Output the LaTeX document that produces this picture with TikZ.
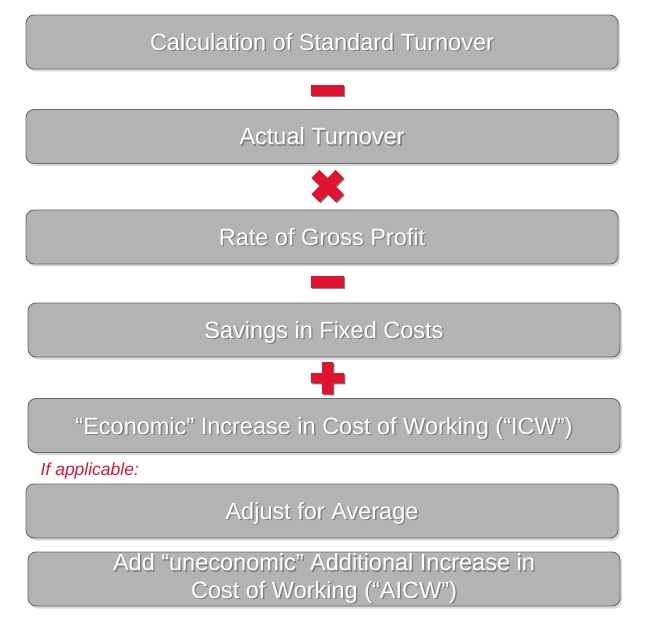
\documentclass[tikz,border=0pt]{standalone}
\usepackage{fontspec}
\setmainfont{Liberation Sans}
\usetikzlibrary{shadows}
\definecolor{boxfill}{RGB}{179,179,179}
\definecolor{boxline}{RGB}{105,105,105}
\definecolor{opred}{RGB}{222,20,48}
\newcommand\shtx[1]{\makebox[0pt][l]{\hspace{1.4pt}\raisebox{-1.4pt}{\textcolor{black!50}{#1}}}#1}
\tikzset{
  stepbox/.style={draw=boxline, line width=0.9pt, fill=boxfill, rounded corners=8pt,
    minimum width=592pt, minimum height=54pt, inner sep=0pt,
    text=white, font=\fontsize{23.5}{28}\selectfont, align=center,
    drop shadow={shadow xshift=2pt, shadow yshift=-2.5pt, fill=black!25, opacity=0.6}},
  oneline/.style={text height=17pt, text depth=0pt},
  opsym/.style={fill=opred, draw=none},
  opshadow/.style={fill=black!55, draw=none},
  minusbox/.style={rectangle, fill=opred, minimum width=33pt, minimum height=11pt, inner sep=0pt,
    drop shadow={shadow xshift=1.3pt, shadow yshift=-1.3pt, fill=black!60, opacity=0.8}},
  notefont/.style={text=opred, font=\fontsize{17.5}{20}\selectfont\itshape, anchor=base west, inner sep=0pt}
}
\begin{document}
\begin{tikzpicture}[x=1pt, y=-1pt]
\useasboundingbox (0,0) rectangle (656,628);

\node[stepbox, oneline] (b1) at (322,42) {\shtx{Calculation of Standard Turnover}};
\node[stepbox, oneline] (b2) at (322,136.5) {\shtx{Actual Turnover}};
\node[stepbox, oneline] (b3) at (322,237) {\shtx{Rate of Gross Profit}};
\node[stepbox, oneline] (b4) at (324,330) {\shtx{Savings in Fixed Costs}};
\node[stepbox, oneline] (b5) at (324,425.5) {\shtx{“Economic” Increase in Cost of Working (“ICW”)}};
\node[stepbox, oneline] (b6) at (322,511) {\shtx{Adjust for Average}};
\node[stepbox] (b7) at (324,579) {\shtx{Add “uneconomic” Additional Increase in}\\[-0.5pt]\shtx{Cost of Working (“AICW”)}};

% operators
\node[minusbox] (m1) at (327.5,90.5) {};
\node[minusbox, minimum height=12pt] (m2) at (327,282) {};

% times sign
\begin{scope}[shift={(328.8,187.3)}, rotate=45]
  \fill[opshadow] (-5.5,-17) -- (5.5,-17) -- (5.5,-5.5) -- (17,-5.5) -- (17,5.5) -- (5.5,5.5) -- (5.5,17) -- (-5.5,17) -- (-5.5,5.5) -- (-17,5.5) -- (-17,-5.5) -- (-5.5,-5.5) -- cycle;
\end{scope}
\begin{scope}[shift={(327.5,186)}, rotate=45]
  \fill[opsym] (-5.5,-17) -- (5.5,-17) -- (5.5,-5.5) -- (17,-5.5) -- (17,5.5) -- (5.5,5.5) -- (5.5,17) -- (-5.5,17) -- (-5.5,5.5) -- (-17,5.5) -- (-17,-5.5) -- (-5.5,-5.5) -- cycle;
\end{scope}

% plus sign
\begin{scope}[shift={(328.8,379.3)}]
  \fill[opshadow] (-5.5,-16) -- (5.5,-16) -- (5.5,-5) -- (16.5,-5) -- (16.5,5) -- (5.5,5) -- (5.5,16) -- (-5.5,16) -- (-5.5,5) -- (-16.5,5) -- (-16.5,-5) -- (-5.5,-5) -- cycle;
\end{scope}
\begin{scope}[shift={(327.5,378)}]
  \fill[opsym] (-5.5,-16) -- (5.5,-16) -- (5.5,-5) -- (16.5,-5) -- (16.5,5) -- (5.5,5) -- (5.5,16) -- (-5.5,16) -- (-5.5,5) -- (-16.5,5) -- (-16.5,-5) -- (-5.5,-5) -- cycle;
\end{scope}

\node[notefont] (note) at (40.5,475) {If applicable:};
\end{tikzpicture}
\end{document}
